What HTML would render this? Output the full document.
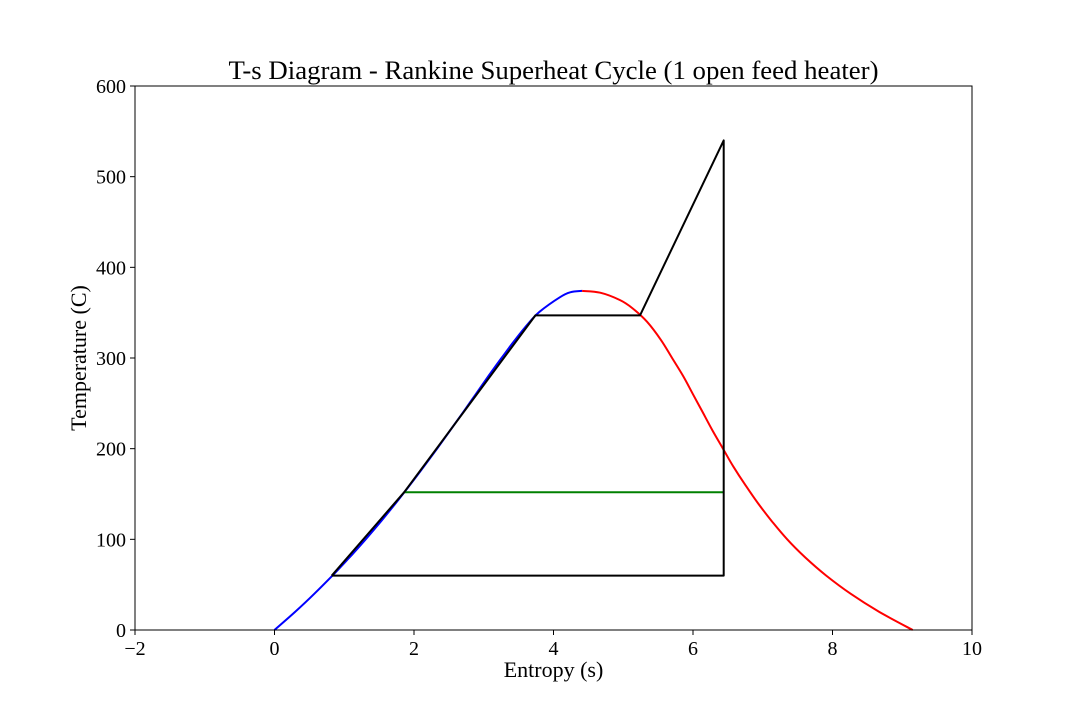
<!DOCTYPE html>
<html><head><meta charset="utf-8"><style>
body{margin:0;background:#fff}
svg{display:block;font-family:"Liberation Serif",serif}
</style></head><body>
<svg id="chart" width="1080" height="720"></svg>
<script>
const xTicks=[-2,0,2,4,6,8,10];
const yTicks=[0,100,200,300,400,500,600];
const liqT=[0,20,40,60,80,100,120,140,160,180,200,220,240,260,280,300,320,340,351,367,372.5,374];
const liqS=[0,0.296,0.572,0.831,1.075,1.307,1.528,1.739,1.943,2.139,2.331,2.518,2.702,2.884,3.067,3.255,3.449,3.661,3.80,4.09,4.24,4.41];
const vapT=[374,372,364,355,340,320,300,280,260,240,220,200,180,160,140,120,100,80,60,40,20,0];
const vapS=[4.41,4.67,4.95,5.13,5.34,5.54,5.70,5.86,6.00,6.14,6.28,6.43,6.58,6.75,6.93,7.13,7.35,7.61,7.91,8.26,8.67,9.15];
const cycleS=[0.82,1.86,3.74,5.24,6.44,6.44,0.82];
const cycleT=[60,152,347,347,540,60,60];
const heaterS=[1.86,6.44];
const heaterT=[152,152];
const L=135,R=972,T=86,B=630;
const X=s=>L+(s-(-2))/12*(R-L);
const Y=t=>B-t/600*(B-T);
const svg=document.getElementById('chart');
const NS='http://www.w3.org/2000/svg';
function mk(tag,attrs,txt){const e=document.createElementNS(NS,tag);for(const k in attrs)e.setAttribute(k,attrs[k]);if(txt!==undefined)e.textContent=txt;svg.appendChild(e);return e;}
function line(sArr,tArr,color,name){
  const p=sArr.map((s,i)=>X(s).toFixed(1)+','+Y(tArr[i]).toFixed(1)).join(' ');
  const e=mk('polyline',{points:p,fill:'none',stroke:color,'stroke-width':2,'stroke-linejoin':'round'});
  
  
}
function smooth(sArr,tArr,color,name){
  const P=sArr.map((s,i)=>[X(s),Y(tArr[i])]);
  let d='M'+P[0][0].toFixed(1)+','+P[0][1].toFixed(1);
  for(let i=0;i<P.length-1;i++){
    const p0=P[Math.max(0,i-1)],p1=P[i],p2=P[i+1],p3=P[Math.min(P.length-1,i+2)];
    const c1=[p1[0]+(p2[0]-p0[0])/6,p1[1]+(p2[1]-p0[1])/6];
    const c2=[p2[0]-(p3[0]-p1[0])/6,p2[1]-(p3[1]-p1[1])/6];
    d+=' C'+c1[0].toFixed(1)+','+c1[1].toFixed(1)+' '+c2[0].toFixed(1)+','+c2[1].toFixed(1)+' '+p2[0].toFixed(1)+','+p2[1].toFixed(1);
  }
  const e=mk('path',{d:d,fill:'none',stroke:color,'stroke-width':2});
  
  
}
smooth(liqS,liqT,'#0000ff','saturated-liquid-line');
smooth(vapS,vapT,'#ff0000','saturated-vapor-line');
line(heaterS,heaterT,'#008000','feed-heater-line');
line(cycleS,cycleT,'#000000','cycle-line');
const frame=mk('rect',{x:L,y:T,width:R-L,height:B-T,fill:'none',stroke:'#000','stroke-width':1});


xTicks.forEach(v=>{
  const x=X(v);
  const tk=mk('line',{x1:x,x2:x,y1:B,y2:B+5,stroke:'#000'});
  
  
  const t=mk('text',{x:x,y:B+25,'text-anchor':'middle','font-size':20},v<0?'\u2212'+(-v):String(v));
  
  
});
yTicks.forEach(v=>{
  const y=Y(v);
  const tk=mk('line',{x1:L-5,x2:L,y1:y,y2:y,stroke:'#000'});
  
  
  const t=mk('text',{x:L-9,y:y+7,'text-anchor':'end','font-size':20},String(v));
  
  
});
const title=mk('text',{x:(L+R)/2,y:79,'text-anchor':'middle','font-size':26.8},'T-s Diagram - Rankine Superheat Cycle (1 open feed heater)');


const xl=mk('text',{x:(L+R)/2,y:677,'text-anchor':'middle','font-size':22},'Entropy (s)');


const yl=mk('text',{x:0,y:0,'text-anchor':'middle','font-size':22,transform:'translate(86,358) rotate(-90)'},'Temperature (C)');


</script>
</body></html>
